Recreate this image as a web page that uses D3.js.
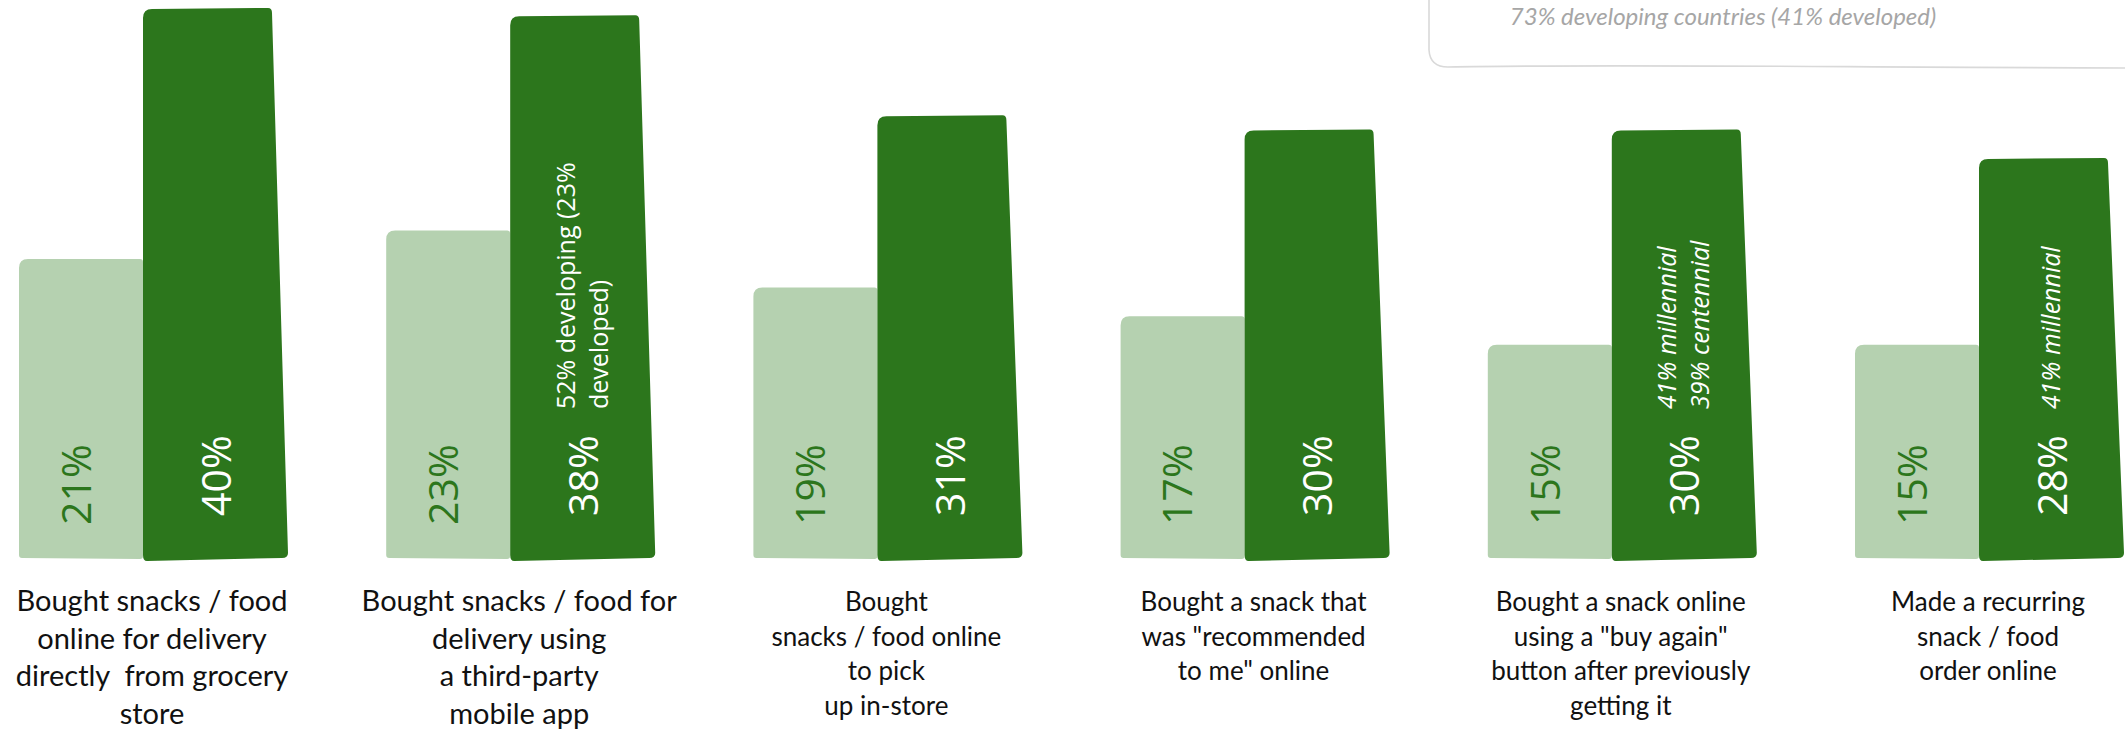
<!DOCTYPE html>
<meta charset="utf-8">
<style>

body {
  margin: 0;
  background: #fff;
}

svg { display: block; }

.cat { font-family: Lato, "Open Sans", sans-serif; fill: #111; text-anchor: middle; white-space: pre; }
.pct { font-family: "Open Sans", sans-serif; font-weight: 400; font-size: 41px; }
.note { font-family: "Open Sans", sans-serif; font-size: 25px; fill: #fff; white-space: pre; }
.corner { font-family: Lato, sans-serif; font-style: italic; font-size: 24px; fill: #a6a6a6; text-anchor: middle; }

</style>
<body>
<script src="https://cdn.jsdelivr.net/npm/d3@7"></script>
<script>

// category labels, one entry per line
var categories = [
  ["Bought snacks / food", "online for delivery", "directly  from grocery", "store"],
  ["Bought snacks / food for", "delivery using", "a third-party", "mobile app"],
  ["Bought", "snacks / food online", "to pick", "up in-store"],
  ["Bought a snack that", "was \"recommended", "to me\" online"],
  ["Bought a snack online", "using a \"buy again\"", "button after previously", "getting it"],
  ["Made a recurring", "snack / food", "order online"]
];

var overall = [21, 23, 19, 17, 15, 15];
var snackers = [40, 38, 31, 30, 30, 28];

var notes = [
  [],
  ["52% developing (23%", "developed)"],
  [],
  [],
  ["41% millennial", "39% centennial"],
  ["41% millennial"]
];

var cornerNote = "73% developing countries (41% developed)";

// styling that differs per group
var noteItalic = [false, false, false, false, true, true];
var catFont = [29, 29, 26, 26, 26, 26];
var catStep = [37.5, 37.5, 34.5, 34.5, 34.5, 34.5];

var width = 2125,
    height = 736,
    base = 559;

var lightCol = "#b5d1b0",
    darkCol = "#2c761c";

var svg = d3.select("body").append("svg")
    .attr("width", width)
    .attr("height", height);

var x = d3.scaleBand()
    .domain(d3.range(categories.length))
    .range([19, 2121])
    .paddingInner(0.2756)
    .paddingOuter(0);

var sub = d3.scaleBand()
    .domain(["overall", "snackers"])
    .range([0, 248]);

var y = d3.scaleLinear()
    .domain([0, 38.5])
    .range([base, 9])
    .clamp(true);

var bw = sub.bandwidth();

// light bar: rounded top-left like a hand-drawn block
function lightPath(x0, top) {
  var p = d3.path(), w = bw, r = 9, s = 3;
  p.moveTo(x0, top + r);
  p.quadraticCurveTo(x0, top, x0 + r, top);
  p.lineTo(x0 + w - s, top);
  p.quadraticCurveTo(x0 + w, top, x0 + w, top + s);
  p.lineTo(x0 + w, base - s);
  p.quadraticCurveTo(x0 + w, base, x0 + w - s, base);
  p.lineTo(x0 + s, base - 1);
  p.quadraticCurveTo(x0, base - 1, x0, base - s - 1);
  p.closePath();
  return p.toString();
}

// dark bar: slightly wider at the bottom
function darkPath(x0, top) {
  var p = d3.path(), wt = bw + 5, wb = bw + 21, r = 9, s = 4;
  p.moveTo(x0, top + r);
  p.quadraticCurveTo(x0, top, x0 + r, top);
  p.lineTo(x0 + wt - s, top - 1);
  p.quadraticCurveTo(x0 + wt, top - 1, x0 + wt, top + s);
  p.lineTo(x0 + wb, base - 6);
  p.quadraticCurveTo(x0 + wb, base - 1, x0 + wb - s - 2, base - 1);
  p.lineTo(x0 + s, base + 2);
  p.quadraticCurveTo(x0, base + 2, x0, base - s);
  p.closePath();
  return p.toString();
}

var group = svg.selectAll("g.grp")
    .data(categories)
  .enter().append("g")
    .attr("class", "grp")
    .attr("transform", function(d, i) { return "translate(" + x(i) + ",0)"; });

group.append("path")
    .attr("fill", lightCol)
    .attr("d", function(d, i) { return lightPath(sub("overall"), y(overall[i])); });

group.append("path")
    .attr("fill", darkCol)
    .attr("d", function(d, i) { return darkPath(sub("snackers"), y(snackers[i])); });

// value labels, rotated
group.append("text")
    .attr("class", "pct")
    .attr("fill", darkCol)
    .attr("dy", "0.36em")
    .attr("transform", function() {
      return "translate(" + (sub("overall") + bw * 0.46) + "," + (base - 34) + ") rotate(-90)";
    })
    .text(function(d, i) { return overall[i] + "%"; });

group.append("text")
    .attr("class", "pct")
    .attr("fill", "#fff")
    .attr("dy", "0.36em")
    .attr("transform", function() {
      return "translate(" + (sub("snackers") + (bw + 5) * 0.565) + "," + (base - 43) + ") rotate(-90)";
    })
    .text(function(d, i) { return snackers[i] + "%"; });

// side notes inside the dark bars
group.each(function(d, i) {
  var lines = notes[i], n = lines.length, g = d3.select(this);
  var cx = sub("snackers") + (bw + 5) * 0.565;
  lines.forEach(function(t, k) {
    g.append("text")
        .attr("class", "note")
        .style("font-style", noteItalic[i] ? "italic" : "normal")
        .attr("dy", "0.32em")
        .attr("transform", "translate(" + (cx + (k - (n - 1) / 2) * 33) + "," + (base - 150) + ") rotate(-90)")
        .text(t);
  });
});

// category labels under the bars
group.append("text")
    .attr("class", "cat")
    .style("font-size", function(d, i) { return catFont[i] + "px"; })
    .each(function(d, i) {
      var t = d3.select(this);
      d.forEach(function(line, k) {
        t.append("tspan")
            .attr("x", 133)
            .attr("y", 611 + k * catStep[i])
            .text(line);
      });
    });

// box in the top right corner
var box = d3.path();
box.moveTo(1429, -5);
box.lineTo(1429, 50);
box.quadraticCurveTo(1430, 67, 1448, 67);
box.bezierCurveTo(1600, 64, 1800, 67, 2130, 68);
svg.append("path")
    .attr("d", box.toString())
    .attr("fill", "none")
    .attr("stroke", "#d9d9d9")
    .attr("stroke-width", 1.6);

svg.append("text")
    .attr("class", "corner")
    .attr("x", 1723)
    .attr("y", 25)
    .text(cornerNote);

</script>
